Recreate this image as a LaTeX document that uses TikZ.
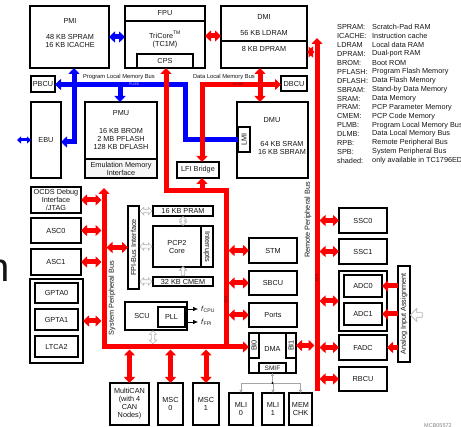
\documentclass[tikz,border=0pt]{standalone}
\usepackage{fontspec}
\setmainfont{Liberation Sans}
\usetikzlibrary{arrows.meta,shapes.arrows,calc}
\definecolor{busred}{RGB}{255,0,0}
\definecolor{busblue}{RGB}{0,0,255}
\definecolor{txt}{RGB}{20,20,20}
\newcommand\fsn{\fontsize{7.3}{8}\selectfont}
\newcommand\fsbus{\fontsize{5.8}{6}\selectfont}
\newcommand\fstiny{\fontsize{3.8}{4}\selectfont}
\newcommand\mybox[7][]{\node[box,minimum width={(#5-#3)*1pt},minimum height={(#6-#4)*1pt},#1] (#2) at ({(#3+#5)/2},{(#4+#6)/2}) {#7};}
\tikzset{
  box/.style={draw=black,line width=1.3pt,fill=white,inner sep=0pt,outer sep=0pt,align=center,font=\fsn,text=txt},
  lbl/.style={inner sep=0pt,outer sep=0pt,align=center,font=\fsn,text=txt},
  leg/.style={inner sep=0pt,anchor=west,font=\fsn,text=txt},
  rbar/.style={draw=busred,line width=5pt,>={Triangle[length=6pt,width=11pt]}},
  bbar/.style={draw=busblue,line width=5pt,>={Triangle[length=6pt,width=11pt]}},
  hda/.style={double arrow,draw=gray!60,fill=white,line width=0.7pt,inner sep=1.3pt,double arrow head extend=2pt,minimum width=7pt},
  hsa/.style={single arrow,draw=gray!60,fill=white,line width=0.7pt,inner sep=1.3pt,single arrow head extend=2pt,minimum width=7pt},
  sline/.style={draw=gray!70,line width=0.8pt},
}
\begin{document}
\begin{tikzpicture}[x=1pt,y=-1pt]
\useasboundingbox (0,0) rectangle (461,427);
\clip (0,0) rectangle (461,427);
\fill[white] (0,0) rectangle (461,427);

% ---------- boxes ----------
\mybox{pmi}{30}{6}{109}{68}{}
\node[lbl] (pmit) at (70,21) {PMI};
\node[lbl] (pmic) at (70,41) {48 KB SPRAM\\16 KB ICACHE};

\mybox{cpu}{125}{6}{205}{68}{}
\draw[line width=1.3pt] (cpu.west|-0,21) -- (cpu.east|-0,21);
\node[lbl] (fpu) at (165,13.5) {FPU};
\node[lbl] (tric) at (165,39.5) {TriCore\textsuperscript{TM}\\(TC1M)};
\mybox{cps}{137}{54}{193}{68}{CPS}

\mybox{dmi}{221}{6}{307}{68}{}
\draw[line width=1.3pt] (dmi.west|-0,41) -- (dmi.east|-0,41);
\node[lbl] (dmit) at (264,17) {DMI};
\node[lbl] (dmi1) at (264,33) {56 KB LDRAM};
\node[lbl] (dmi2) at (264,49) {8 KB DPRAM};

\mybox{pbcu}{31}{76}{55}{92}{PBCU}
\mybox{dbcu}{281}{76}{307}{91}{DBCU}
\mybox{ebu}{31}{102}{61}{178}{EBU}

\mybox{pmu}{85}{102}{157}{178}{}
\mybox[fill=gray!7]{emi}{85}{159}{157}{178}{Emulation Memory\\Interface}
\node[lbl] (pmut) at (121,113) {PMU};
\node[lbl] (pmuc) at (121,139) {16 KB BROM\\2 MB PFLASH\\128 KB DFLASH};

\mybox{lfi}{177}{162}{219}{178}{LFI Bridge}

\mybox{dmu}{237}{102}{308}{178}{}
\node[lbl] (dmut) at (272,120) {DMU};
\node[lbl] (dmuc) at (282,148) {64 KB SRAM\\16 KB SBRAM};
\mybox{lmi}{238}{127}{250}{152}{}
\node[lbl,rotate=90] (lmit) at (lmi) {LMI};

\mybox{ocds}{31}{187}{81}{213}{OCDS Debug\\Interface\\/JTAG}
\mybox{asc0}{31}{218}{81}{243}{ASC0}
\mybox{asc1}{31}{249}{81}{275}{ASC1}
\mybox{gpta}{30}{279}{83}{363}{}
\mybox{gpta0}{35}{283}{78}{303}{GPTA0}
\mybox{gpta1}{35}{309}{78}{330}{GPTA1}
\mybox{ltca}{35}{336}{78}{357}{LTCA2}

\mybox{fpi}{128}{206}{139}{289}{}
\node[lbl,rotate=90] (fpit) at (fpi) {FPI-Bus Interface};
\mybox{pram}{153}{206}{213}{216}{16 KB PRAM}
\mybox{pcp}{153}{226}{201}{267}{PCP2\\Core}
\mybox{intr}{201}{226}{213}{267}{}
\node[lbl,rotate=-90] (intrt) at (intr) {Interrupts};
\mybox{cmem}{153}{277}{213}{286}{32 KB CMEM}

\mybox{scu}{125}{302}{187}{330}{}
\node[lbl] (scut) at (142,316) {SCU};
\mybox{pll}{158}{307}{185}{327}{PLL}

\mybox{stm}{249}{238}{297}{263}{STM}
\mybox{sbcu}{249}{271}{297}{295}{SBCU}
\mybox{ports}{249}{303}{297}{327}{Ports}
\mybox{dma}{249}{333}{296}{373}{}
\node[lbl] (dmat) at (272.5,349) {DMA};
\mybox{bi0}{249}{333}{259}{358}{}
\node[lbl,rotate=90] (bi0t) at (bi0) {BI0};
\mybox{bi1}{286}{333}{296}{358}{}
\node[lbl,rotate=90] (bi1t) at (bi1) {BI1};
\mybox[font=\fontsize{6.5}{7}\selectfont]{smif}{259}{363}{286}{373}{SMIF}

\mybox{mcan}{110}{383}{149}{425}{MultiCAN\\(with 4\\CAN\\Nodes)}
\mybox{msc0}{158}{383}{183}{425}{MSC\\0}
\mybox{msc1}{193}{383}{219}{425}{MSC\\1}
\mybox{mli0}{229}{393}{253}{425}{MLI\\0}
\mybox{mli1}{262}{393}{284}{425}{MLI\\1}
\mybox{memchk}{289}{393}{312}{425}{MEM\\CHK}

\mybox{ssc0}{339}{208}{387}{233}{SSC0}
\mybox{ssc1}{339}{239}{387}{264}{SSC1}
\mybox{adc}{339}{271}{387}{331}{}
\mybox{adc0}{344}{275}{382}{297}{ADC0}
\mybox{adc1}{344}{303}{382}{325}{ADC1}
\mybox{fadc}{339}{335}{387}{360}{FADC}
\mybox{rbcu}{339}{367}{387}{391}{RBCU}
\mybox{aia}{398}{266}{410}{362}{}
\node[lbl,rotate=90] (aiat) at (aia) {Analog Input Assignment};

% ---------- blue buses ----------
\coordinate (ext) at (17,140);
\draw[bbar,<->] (pmi.south-|74,0) -- (74,142) -- (ebu.east|-0,142);
\draw[bbar,<-] (pbcu.east|-0,84.5) -- (185,84.5) -- (185,140) -- (lmi.west|-0,140);
\draw[bbar,->] (120,84.5) -- (pmu.north-|120,0);
\draw[bbar,<->] (pmi.east|-0,37) -- (cpu.west|-0,37);
\draw[bbar,line width=3pt,>={Triangle[length=4pt,width=7pt]},<->] (ext) -- (ebu.west|-ext);

% ---------- red buses ----------
\coordinate (rpbT) at (317,38);
\coordinate (rpbB) at (317,391);
\draw[rbar,->] (rpbB) -- (rpbT);
\draw[rbar,<->] (cpu.east|-0,36) -- (dmi.west|-0,36);
\draw[rbar,<->] (dmi.east|-0,52) -- (314.5,52);
\draw[rbar,<->] (dbcu.west|-0,84.5) -- (202,84.5) -- (lfi.north-|202,0);
\draw[rbar,<->] (dmi.south-|260,0) -- (dmu.north-|260,0);
\draw[rbar,<-] (cps.south-|166,0) -- (166,191) -- (226,191) -- (226,349.5);
\draw[rbar,->] (202,191) -- (lfi.south-|202,0);
\draw[rbar,<->] (104,188) -- (104,347) -- (bi0.west|-0,347);

\foreach \b in {ocds,asc0,asc1,gpta}
  \draw[rbar,<->] (\b.east) -- (\b.east-|101.5,0);
\draw[rbar,<->] (106.5,247.5) -- (fpi.west);
\foreach \b in {stm,sbcu,ports}
  \draw[rbar,<->] (\b.west-|228.5,0) -- (\b.west);
\foreach \b in {mcan,msc0,msc1}
  \draw[rbar,<->] (\b.north|-0,349.5) -- (\b.north);
\foreach \b in {ssc0,ssc1,adc,fadc,rbcu}
  \draw[rbar,<->] (\b.west-|319.5,0) -- (\b.west);
\draw[rbar,<->] (bi1.east) -- (bi1.east-|314.5,0);
\foreach \b in {adc0,adc1,fadc}
  \draw[rbar,->] (aia.west|-\b.east) -- (\b.east);

% ---------- bus labels ----------
\node[lbl,font=\fsbus,anchor=west] (plmbl) at (83,77) {Program Local Memory Bus};
\node[lbl,font=\fsbus,anchor=west] (dlmbl) at (193,77) {Data Local Memory Bus};
\node[lbl,font=\fstiny,text=white!70!blue] (plmb) at (134,84.5) {PLMB};
\node[lbl,font=\fstiny,text=red!45!black] (dlmb) at (238,84.5) {DLMB};
\node[lbl,rotate=90,font=\fstiny,text=red!45!black] (spbl) at (226,300) {SPB};
\node[lbl,rotate=90,font=\fstiny,text=red!45!black] (rpbl) at (317,278) {RPB};
\node[lbl,rotate=90] (spbt) at (112,298) {System Peripheral Bus};
\node[lbl,rotate=90] (rpbt) at (308,220) {Remote Peripheral Bus};

% ---------- hollow arrows ----------
\path (fpi.east|-pram.west) -- (pram.west) node[midway,hda,minimum height=12pt] (h1) {};
\path (fpi.east|-pcp.west) -- (pcp.west) node[midway,hda,minimum height=12pt] (h2) {};
\path (fpi.east|-cmem.west) -- (cmem.west) node[midway,hda,minimum height=12pt] (h3) {};
\path (pram.south-|183,0) -- (pcp.north-|183,0) node[midway,hda,shape border rotate=90,minimum height=9pt] (h4) {};
\path (cmem.north-|183,0) -- (pcp.south-|183,0) node[midway,hsa,shape border rotate=90,minimum height=9pt] (h5) {};
\path (scu.south-|153,0) -- (153,344.5) node[midway,hda,shape border rotate=90,minimum height=13pt] (h6) {};
\node[hsa,shape border rotate=180,minimum height=12pt,single arrow head extend=4pt,inner sep=2pt] (ain) at (417.5,315) {};

% ---------- PLL outputs ----------
\coordinate (fc) at (198,309);
\coordinate (ff) at (198,322);
\draw[-{Latex[length=5pt,width=4.5pt]},line width=0.6pt] (pll.east|-fc) -- (fc);
\draw[-{Latex[length=5pt,width=4.5pt]},line width=0.6pt] (pll.east|-ff) -- (ff);
\node[lbl,anchor=west] (fcl) at (201,309) {\textit{f}\textsubscript{CPU}};
\node[lbl,anchor=west] (ffl) at (201,322) {\textit{f}\textsubscript{FPI}};

% ---------- SMIF connections ----------
\coordinate (j) at (272.5,383);
\draw[sline,-{Latex[length=3pt,width=3.5pt]}] (j) -- (smif.south);
\draw[sline] (mli0.north|-j) -- (memchk.north|-j);
\foreach \m in {mli0,mli1,memchk}
  \draw[sline,-{Latex[length=3pt,width=3.5pt]}] (\m.north|-j) -- (\m.north);
\fill[black] (j) circle (1.2pt);

% ---------- legend ----------
\foreach \a/\b [count=\i] in {SPRAM:/Scratch-Pad RAM,ICACHE:/Instruction cache,LDRAM/Local data RAM,DPRAM:/Dual-port RAM,BROM:/Boot ROM,PFLASH:/Program Flash Memory,DFLASH:/Data Flash Memory,SBRAM:/Stand-by Data Memory,SRAM:/Data Memory,PRAM:/PCP Parameter Memory,CMEM:/PCP Code Memory,PLMB:/Program Local Memory Bus,DLMB:/Data Local Memory Bus,RPB:/Remote Peripheral Bus,SPB:/System Peripheral Bus,shaded:/only available in TC1796ED}{
  \node[leg] (lga\i) at (337,{27.3+8.9*(\i-1)}) {\a};
  \node[leg] (lgb\i) at (372,{27.3+8.9*(\i-1)}) {\b};
}

% ---------- stray texts ----------
\node[inner sep=0pt,anchor=base west,font=\fontsize{40}{40}\selectfont,text=txt] (bign) at (-13,282) {n};
\node[anchor=north west,inner sep=0pt,font=\fontsize{5.5}{6}\selectfont,text=gray] (mcb) at (424,423) {MCB05572};
\end{tikzpicture}
\end{document}
